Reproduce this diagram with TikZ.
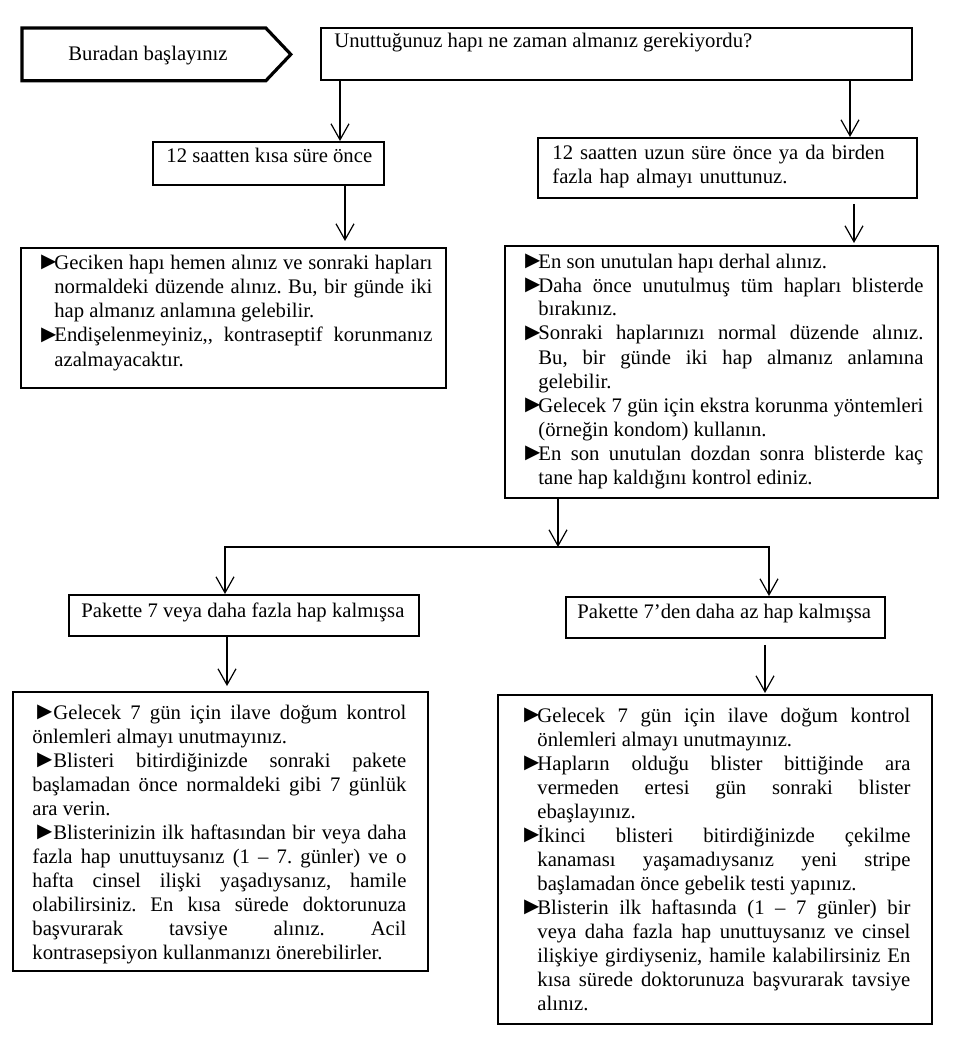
\documentclass[tikz,border=0pt]{standalone}
\usepackage{fontspec}
\setmainfont{Liberation Serif}
\usetikzlibrary{arrows.meta,calc}
\newcommand\bul{{\fontsize{12.5}{12}\selectfont ►}}
\newcommand\hitem[1]{\noindent\hangindent=9pt\hangafter=1\makebox[9pt][l]{\bul}#1\par}
\newcommand\fitem[1]{\noindent\makebox[10.5pt][l]{\bul}#1\par}
\begin{document}
\begin{tikzpicture}[x=0.5pt,y=-0.5pt,
  box/.style={draw, line width=0.9pt, rectangle, inner sep=0pt, anchor=north west},
  lbl/.style={inner sep=0pt, anchor=base west, font=\fontsize{10.35}{12}\selectfont\frenchspacing},
  para/.style={lbl, align=justify, execute at begin node={\tolerance=10000\hyphenpenalty=10000\hbadness=10000}},
  arr/.style={line width=0.6pt, -{Straight Barb[length=8pt,width=9pt]}},
]
\fill[white] (0,0) rectangle (978,1048);
\useasboundingbox (0,0) rectangle (978,1048);

% start marker
\node[inner sep=0pt, anchor=north west, minimum width=121.5pt, minimum height=26pt] (start) at (22,28) {};
\draw[line width=1.6pt, line join=miter] (start.north west) -- (start.north east) -- ($(start.east)+(25,0)$) -- (start.south east) -- (start.south west) -- cycle;
\node[lbl, anchor=base] (tstart) at (148,61) {Buradan başlayınız};

% boxes
\node[box, minimum width=295.5pt, minimum height=26pt] (q) at (320,27) {};
\node[box, minimum width=115.5pt, minimum height=21.5pt] (s1) at (152,141) {};
\node[box, minimum width=189.5pt, minimum height=30pt] (s2) at (537,137) {};
\node[box, minimum width=212.5pt, minimum height=70pt] (b1) at (20,247) {};
\node[box, minimum width=216.5pt, minimum height=126pt] (b2) at (504,245) {};
\node[box, minimum width=175pt, minimum height=20.5pt] (p1) at (68,594) {};
\node[box, minimum width=159.5pt, minimum height=20.5pt] (p2) at (565,596) {};
\node[box, minimum width=207.5pt, minimum height=139.5pt] (c1) at (12,691) {};
\node[box, minimum width=217pt, minimum height=164.5pt] (c2) at (497,694) {};

% texts
\node[lbl] (tq) at (334,48) {Unuttuğunuz hapı ne zaman almanız gerekiyordu?};
\node[lbl] (ts1) at (166,163) {12 saatten kısa süre önce};
\node[lbl, text width=185pt, align=left] (ts2) at (552,160) {12 saatten uzun süre önce ya da birden\\fazla hap almayı unuttunuz.};
\node[lbl] (tp1) at (81,617) {Pakette 7 veya daha fazla hap kalmışsa};
\node[lbl] (tp2) at (577,618) {Pakette 7’den daha az hap kalmışsa};

\node[para, text width=198pt] (tb1) at (36,270) {%
\hitem{Geciken hapı hemen alınız ve sonraki hapları \linebreak normaldeki düzende alınız. Bu, bir günde iki \linebreak hap almanız anlamına gelebilir.}%
\hitem{Endişelenmeyiniz,\kern0pt, kontraseptif korunmanız \linebreak azalmayacaktır.}};

\node[para, text width=201.5pt] (tb2) at (520,268) {%
\hitem{En son unutulan hapı derhal alınız.}%
\hitem{Daha önce unutulmuş tüm hapları blisterde \linebreak bırakınız.}%
\hitem{Sonraki haplarınızı normal düzende alınız. \linebreak Bu, bir günde iki hap almanız anlamına \linebreak gelebilir.}%
\hitem{Gelecek 7 gün için ekstra korunma yöntemleri \linebreak (örneğin kondom) kullanın.}%
\hitem{En son unutulan dozdan sonra blisterde kaç \linebreak tane hap kaldığını kontrol ediniz.}};

\node[para, text width=187pt] (tc1) at (32,719) {%
\fitem{Gelecek 7 gün için ilave doğum kontrol \linebreak önlemleri almayı unutmayınız.}%
\fitem{Blisteri bitirdiğinizde sonraki pakete \linebreak başlamadan önce normaldeki gibi 7 günlük \linebreak ara verin.}%
\fitem{Blisterinizin ilk haftasından bir veya daha \linebreak fazla hap unuttuysanız (1 – 7. günler) ve o \linebreak hafta cinsel ilişki yaşadıysanız, hamile \linebreak olabilirsiniz. En kısa sürede doktorunuza \linebreak başvurarak tavsiye alınız. Acil \linebreak kontrasepsiyon kullanmanızı önerebilirler.}};

\node[para, text width=195.5pt] (tc2) at (519,722) {%
\hitem{Gelecek 7 gün için ilave doğum kontrol \linebreak önlemleri almayı unutmayınız.}%
\hitem{Hapların olduğu blister bittiğinde ara \linebreak vermeden ertesi gün sonraki blister \linebreak ebaşlayınız.}%
\hitem{İkinci blisteri bitirdiğinizde çekilme \linebreak kanaması yaşamadıysanız yeni stripe \linebreak başlamadan önce gebelik testi yapınız.}%
\hitem{Blisterin ilk haftasında (1 – 7 günler) bir \linebreak veya daha fazla hap unuttuysanız ve cinsel \linebreak ilişkiye girdiyseniz, hamile kalabilirsiniz En \linebreak kısa sürede doktorunuza başvurarak tavsiye \linebreak alınız.}};

% connector x positions
\coordinate (xa) at (340,0);
\coordinate (xb) at (850,0);
\coordinate (xc) at (345,0);
\coordinate (xd) at (854,0);
\coordinate (j) at (558,547);
\coordinate (xl) at (225,0);
\coordinate (xr) at (769,0);
\coordinate (xe) at (227,0);
\coordinate (xf) at (765,0);

\draw[arr] (q.south -| xa) -- (s1.north -| xa);
\draw[arr] (q.south -| xb) -- (s2.north -| xb);
\draw[arr, shorten >=3pt] (s1.south -| xc) -- (b1.north -| xc);
\draw[arr, shorten <=2.5pt, shorten >=1pt] (s2.south -| xd) -- (b2.north -| xd);
\draw[arr] (b2.south -| j) -- (j);
\draw[arr] (j) -| (p1.north -| xl);
\draw[arr] (j) -| (p2.north -| xr);
\draw[arr, shorten >=2.5pt] (p1.south -| xe) -- (c1.north -| xe);
\draw[arr, shorten <=3pt, shorten >=0.5pt] (p2.south -| xf) -- (c2.north -| xf);
\end{tikzpicture}
\end{document}
